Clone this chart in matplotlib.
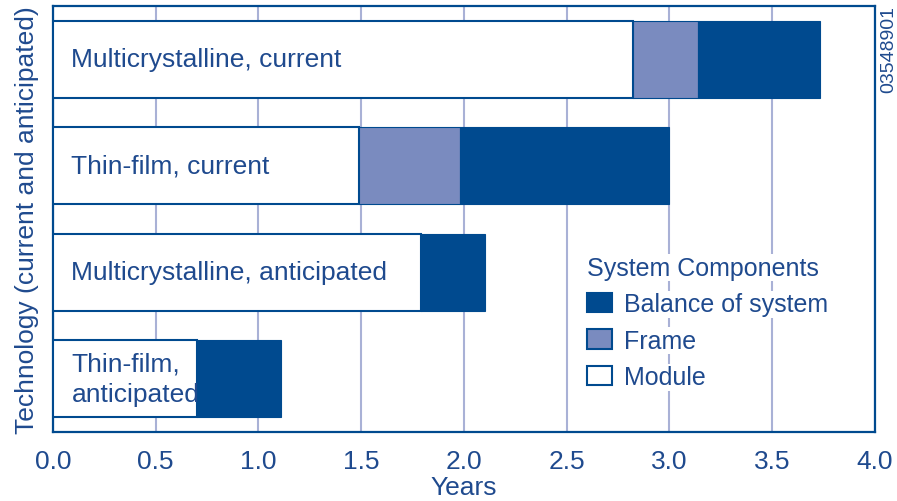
import matplotlib
matplotlib.use("Agg")
import matplotlib.pyplot as plt
import numpy as np

plt.rcParams['font.family'] = ['Liberation Sans', 'DejaVu Sans']

# data (years)
technologies = ["Multicrystalline, current", "Thin-film, current",
                "Multicrystalline, anticipated", "Thin-film,\nanticipated"]
module = [2.82, 1.49, 1.79, 0.70]
frame = [0.32, 0.49, 0.0, 0.0]
balance = [0.59, 1.02, 0.31, 0.41]
xticks = [0.0, 0.5, 1.0, 1.5, 2.0, 2.5, 3.0, 3.5, 4.0]

dark = "#004A8F"
mid = "#7A8BBF"
textc = "#1F4A8E"
gridc = "#A9B1D6"

fig = plt.figure(figsize=(8.97, 5.02), dpi=100)
ax = fig.add_axes([0.059, 0.1375, 0.9165, 0.8485])

y = np.arange(len(technologies))[::-1]
h = 0.72
module = np.array(module)
frame = np.array(frame)
balance = np.array(balance)

ax.barh(y, module, height=h, color="white", edgecolor=dark, linewidth=1.5, label="Module", zorder=3)
ax.barh(y, frame, left=module, height=h, color=mid, edgecolor=dark, linewidth=0.8, label="Frame", zorder=3)
ax.barh(y, balance, left=module + frame, height=h, color=dark, edgecolor=dark, linewidth=0.8,
        label="Balance of system", zorder=3)

for yi, name in zip(y, technologies):
    ax.text(0.09, yi, name, va="center", ha="left", fontsize=19, color=textc,
            linespacing=1.3, zorder=4)

ax.set_xlim(0, 4)
ax.set_ylim(-0.5, 3.5)
ax.set_xticks(xticks)
ax.set_xticklabels([f"{v:.1f}" for v in xticks])
ax.set_yticks([])
ax.tick_params(axis="x", length=0, pad=12, labelsize=19, labelcolor=textc)
ax.xaxis.grid(True, color=gridc, linewidth=1.5)
ax.set_axisbelow(True)
for s in ax.spines.values():
    s.set_color(dark)
    s.set_linewidth(1.6)

ax.set_xlabel("Years", fontsize=19, color=textc, labelpad=2)
ax.set_ylabel("Technology (current and anticipated)", fontsize=19, color=textc, labelpad=10)

handles, labels = ax.get_legend_handles_labels()
leg = ax.legend(handles[::-1], labels[::-1], title="System Components",
                loc="upper left", bbox_to_anchor=(0.628, 0.455), frameon=False,
                fontsize=18, title_fontsize=18, alignment="left",
                handlelength=1.0, handleheight=0.8, handletextpad=0.5,
                labelspacing=0.5, borderpad=0.2)
leg.set_zorder(5)
leg.get_title().set_color(textc)
leg.get_title().set_bbox(dict(facecolor="white", edgecolor="none", pad=1))
for t in leg.get_texts():
    t.set_color(textc)
    t.set_bbox(dict(facecolor="white", edgecolor="none", pad=1))
for p in leg.get_patches():
    p.set_edgecolor(dark)
    p.set_linewidth(1.5)

fig.text(0.991, 0.988, "03548901", rotation=90, va="top", ha="center",
         fontsize=14, color=textc)

fig.savefig("out.png", dpi=100)
